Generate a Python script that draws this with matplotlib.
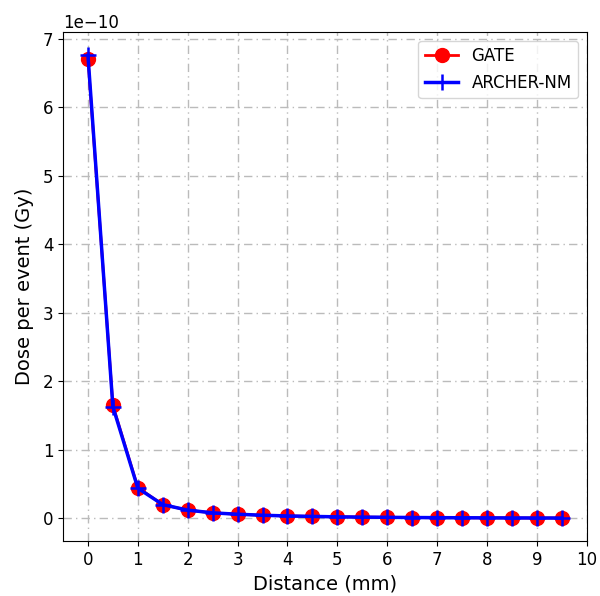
import numpy as np
import matplotlib
matplotlib.use("Agg")
import matplotlib.pyplot as plt

# distance from source (mm) and dose per event (Gy)
distance = [0, 0.5, 1, 1.5, 2, 2.5, 3, 3.5, 4, 4.5, 5, 5.5, 6, 6.5, 7, 7.5, 8, 8.5, 9, 9.5]
dose_gate = [6.71e-10, 1.65e-10, 4.5e-11, 2.0e-11, 1.2e-11, 8.0e-12, 6.0e-12, 4.5e-12,
             3.5e-12, 2.8e-12, 2.2e-12, 1.8e-12, 1.5e-12, 1.2e-12, 1.0e-12, 8.5e-13,
             7.0e-13, 6.0e-13, 5.0e-13, 4.5e-13]
dose_archer = [6.76e-10, 1.63e-10, 4.4e-11, 2.0e-11, 1.2e-11, 8.0e-12, 6.0e-12, 4.5e-12,
               3.5e-12, 2.8e-12, 2.2e-12, 1.8e-12, 1.5e-12, 1.2e-12, 1.0e-12, 8.5e-13,
               7.0e-13, 6.0e-13, 5.0e-13, 4.5e-13]
xticks = list(range(0, 11))

fig, ax = plt.subplots(figsize=(6.0, 5.96), dpi=100)

ax.plot(distance, dose_gate, 'r-o', lw=2, markersize=10, label='GATE')
ax.plot(distance, dose_archer, 'b-+', lw=2.5, markersize=11, mew=1.8, label='ARCHER-NM')

ax.set_xlim(-0.5, 10)
ax.set_xticks(xticks)
ax.tick_params(labelsize=12)
ax.yaxis.get_offset_text().set_fontsize(12)
ax.set_xlabel('Distance (mm)', fontsize=14)
ax.set_ylabel('Dose per event (Gy)', fontsize=14, labelpad=6)
ax.grid(True, linestyle=(0, (6, 3, 1, 3)), color='#bbbbbb', lw=1)
ax.legend(fontsize=12, loc='upper right')

plt.subplots_adjust(left=0.105, right=0.978, top=0.946, bottom=0.092)
plt.savefig('out.png')
